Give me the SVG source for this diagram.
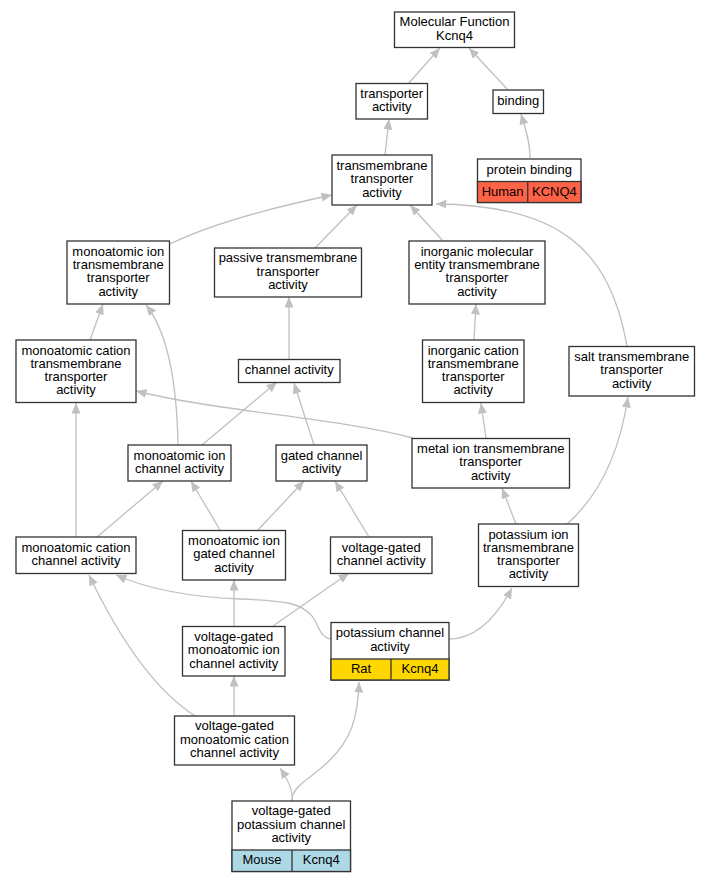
<svg xmlns="http://www.w3.org/2000/svg" width="711" height="883" viewBox="0 0 711 883">
<style>
.node rect{fill:#fff;stroke:#333;stroke-width:1.3}
.node line{stroke:#333;stroke-width:1.3}
.node rect.human{fill:#ff6347}
.node rect.rat{fill:#ffd700}
.node rect.mouse{fill:#add8e6}
text{font-family:"Liberation Sans",Arial,sans-serif;font-size:13px;text-anchor:middle;fill:#000}
.edges path{fill:none;stroke:#c0c0c0;stroke-width:1.3;marker-end:url(#arr)}
</style>
<defs>
<marker id="arr" markerUnits="userSpaceOnUse" viewBox="0 0 10.5 9" refX="10.5" refY="4.5" markerWidth="10.5" markerHeight="9" orient="auto">
<path d="M0,0 L10.5,4.5 L0,9 z" fill="#c0c0c0"/>
</marker>
</defs>
<rect width="711" height="883" fill="#fff"/>
<g class="edges">
<path d="M408,84 L440,48"/>
<path d="M508,90 L469,48"/>
<path d="M530,158 C530,140 525,128 521,114"/>
<path d="M385,155 L389,119"/>
<path d="M170,244 C215,222 275,207 332,195"/>
<path d="M315,248 L357,205"/>
<path d="M443,241 L410,205"/>
<path d="M627,346 C610,250 560,205 436,204"/>
<path d="M90,340 L103,304"/>
<path d="M289,359 L289,297"/>
<path d="M474,340 L476,304"/>
<path d="M178,445 C177,390 170,335 146,305"/>
<path d="M202,445 L277,382"/>
<path d="M314,445 L294,383"/>
<path d="M413,438 C340,418 220,412 136,391"/>
<path d="M486,438 L481,403"/>
<path d="M76,537 L76,403"/>
<path d="M97,537 L163,481"/>
<path d="M220,530 L191,481"/>
<path d="M258,530 L304,481"/>
<path d="M369,537 L335,481"/>
<path d="M516,524 L502,488"/>
<path d="M567,524 C600,495 620,450 628,397"/>
<path d="M331,639 C318,637 318,620 310,614 C300,604 290,601 240,599 C190,597 150,590 116,575"/>
<path d="M449,639 C475,639 495,620 512,588"/>
<path d="M234,626 L234,580"/>
<path d="M273,626 L349,573"/>
<path d="M234,716 L234,676"/>
<path d="M195,716 C155,690 120,640 89,575"/>
<path d="M292,801 C293,790 288,780 280,768"/>
<path d="M292,801 C292,785 310,780 330,760 C350,740 358,720 359,682"/>
</g>
<g id="n1" class="node"><rect x="394.5" y="12" width="120" height="35.5"/><text x="454.5" y="26.4">Molecular Function</text><text x="454.5" y="39.7">Kcnq4</text></g>
<g id="n2" class="node"><rect x="356" y="83.5" width="71.5" height="35.5"/><text x="391.75" y="97.8">transporter</text><text x="391.75" y="111.1">activity</text></g>
<g id="n3" class="node"><rect x="493" y="90" width="50.5" height="23.5"/><text x="518.25" y="105">binding</text></g>
<g id="n4" class="node"><rect x="477.5" y="159" width="103.5" height="43.5"/><rect class="human" x="477.5" y="181.5" width="103.5" height="21"/><line x1="527.75" y1="181.5" x2="527.75" y2="202.5"/><text x="529.25" y="174">protein binding</text><text x="502.6" y="195.5">Human</text><text x="554.4" y="195.5">KCNQ4</text></g>
<g id="n5" class="node"><rect x="332" y="155" width="100" height="50"/><text x="382" y="169.9">transmembrane</text><text x="382" y="183.2">transporter</text><text x="382" y="196.5">activity</text></g>
<g id="n6" class="node"><rect x="67" y="241" width="102.5" height="63"/><text x="118.25" y="255.7">monoatomic ion</text><text x="118.25" y="269">transmembrane</text><text x="118.25" y="282.3">transporter</text><text x="118.25" y="295.6">activity</text></g>
<g id="n7" class="node"><rect x="214.5" y="248" width="147" height="49"/><text x="288" y="262.4">passive transmembrane</text><text x="288" y="275.7">transporter</text><text x="288" y="289">activity</text></g>
<g id="n8" class="node"><rect x="409" y="241" width="136" height="63"/><text x="477" y="255.7">inorganic molecular</text><text x="477" y="269">entity transmembrane</text><text x="477" y="282.3">transporter</text><text x="477" y="295.6">activity</text></g>
<g id="n9" class="node"><rect x="16" y="340" width="120" height="62.5"/><text x="76" y="354.5">monoatomic cation</text><text x="76" y="367.8">transmembrane</text><text x="76" y="381.1">transporter</text><text x="76" y="394.4">activity</text></g>
<g id="n10" class="node"><rect x="238.5" y="359.5" width="101.5" height="23"/><text x="289.25" y="374.2">channel activity</text></g>
<g id="n11" class="node"><rect x="422.5" y="340" width="101.5" height="62.5"/><text x="473.25" y="354.5">inorganic cation</text><text x="473.25" y="367.8">transmembrane</text><text x="473.25" y="381.1">transporter</text><text x="473.25" y="394.4">activity</text></g>
<g id="n12" class="node"><rect x="569" y="346.5" width="125.5" height="49.5"/><text x="631.75" y="361.1">salt transmembrane</text><text x="631.75" y="374.4">transporter</text><text x="631.75" y="387.7">activity</text></g>
<g id="n13" class="node"><rect x="128" y="445" width="103" height="36"/><text x="179.5" y="459.5">monoatomic ion</text><text x="179.5" y="472.8">channel activity</text></g>
<g id="n14" class="node"><rect x="276" y="445" width="91" height="36"/><text x="321.5" y="459.5">gated channel</text><text x="321.5" y="472.8">activity</text></g>
<g id="n15" class="node"><rect x="412" y="438.5" width="157.5" height="49.5"/><text x="490.75" y="453.1">metal ion transmembrane</text><text x="490.75" y="466.4">transporter</text><text x="490.75" y="479.7">activity</text></g>
<g id="n16" class="node"><rect x="16" y="537" width="120" height="36.5"/><text x="76" y="551.8">monoatomic cation</text><text x="76" y="565.1">channel activity</text></g>
<g id="n17" class="node"><rect x="182.5" y="530.5" width="103" height="49.5"/><text x="234" y="545.1">monoatomic ion</text><text x="234" y="558.4">gated channel</text><text x="234" y="571.7">activity</text></g>
<g id="n18" class="node"><rect x="330.5" y="537" width="101.5" height="36.5"/><text x="381.25" y="551.8">voltage-gated</text><text x="381.25" y="565.1">channel activity</text></g>
<g id="n19" class="node"><rect x="478.5" y="524" width="100" height="62.5"/><text x="528.5" y="538.5">potassium ion</text><text x="528.5" y="551.8">transmembrane</text><text x="528.5" y="565.1">transporter</text><text x="528.5" y="578.4">activity</text></g>
<g id="n20" class="node"><rect x="182.5" y="626.5" width="102.5" height="49.5"/><text x="233.75" y="641.1">voltage-gated</text><text x="233.75" y="654.4">monoatomic ion</text><text x="233.75" y="667.7">channel activity</text></g>
<g id="n21" class="node"><rect x="331" y="622.5" width="118" height="57.5"/><rect class="rat" x="331" y="659" width="118" height="21"/><line x1="391" y1="659" x2="391" y2="680"/><text x="390" y="637.3">potassium channel</text><text x="390" y="650.6">activity</text><text x="361" y="672.9">Rat</text><text x="420" y="672.9">Kcnq4</text></g>
<g id="n22" class="node"><rect x="174.5" y="716" width="120" height="49"/><text x="234.5" y="730.4">voltage-gated</text><text x="234.5" y="743.7">monoatomic cation</text><text x="234.5" y="757">channel activity</text></g>
<g id="n23" class="node"><rect x="232" y="801" width="118.5" height="70.5"/><rect class="mouse" x="232" y="850" width="118.5" height="21.5"/><line x1="292" y1="850" x2="292" y2="871.5"/><text x="291.25" y="815.4">voltage-gated</text><text x="291.25" y="828.7">potassium channel</text><text x="291.25" y="842">activity</text><text x="262" y="864.2">Mouse</text><text x="321.25" y="864.2">Kcnq4</text></g>
</svg>
